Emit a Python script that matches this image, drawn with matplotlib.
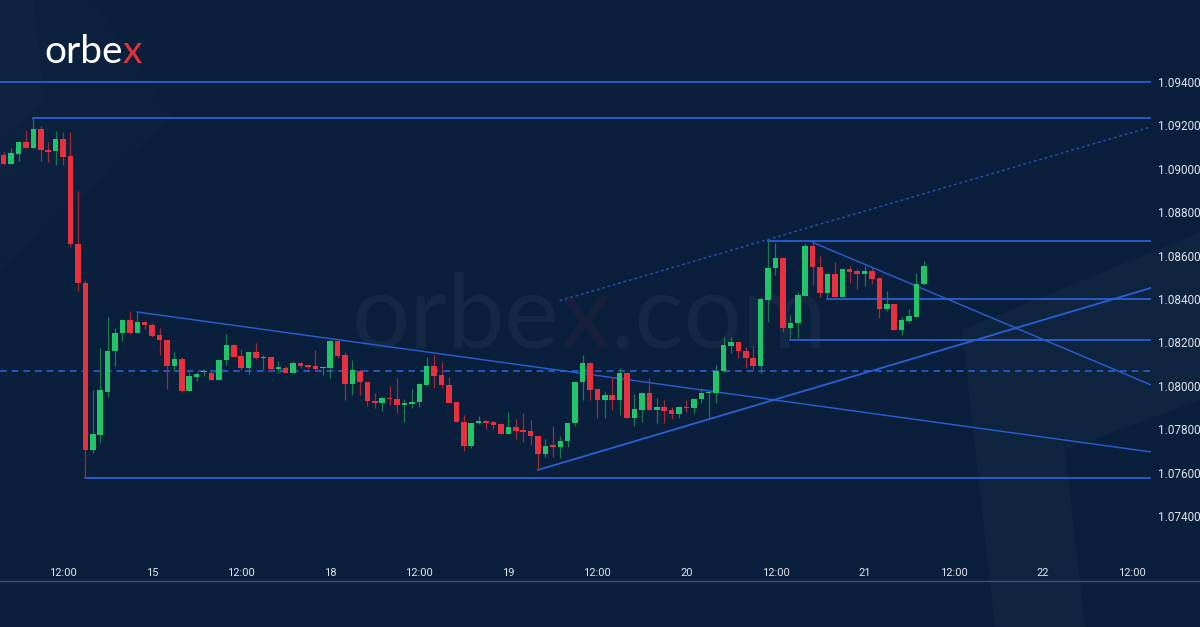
import matplotlib
matplotlib.use("Agg")
import matplotlib.pyplot as plt
from matplotlib.patches import Rectangle, Polygon
import numpy as np

# EURUSD H1 candles (first candle = 14th 04:00)
opens = [
    1.09064, 1.09021, 1.09068, 1.09122, 1.09097, 1.09183, 1.09085, 1.09082, 1.09137, 1.09059,
    1.08653, 1.08475, 1.07704, 1.07773, 1.07973, 1.08159, 1.08242, 1.08302, 1.08242, 1.08296,
    1.08280, 1.08233, 1.08213, 1.08091, 1.08125, 1.07976, 1.08042, 1.08062, 1.08060, 1.08026,
    1.08119, 1.08188, 1.08137, 1.08083, 1.08154, 1.08126, 1.08131, 1.08079, 1.08083, 1.08060,
    1.08105, 1.08095, 1.08091, 1.08080, 1.08080, 1.08205, 1.08142, 1.08006, 1.08069, 1.08019,
    1.07931, 1.07922, 1.07943, 1.07939, 1.07913, 1.07916, 1.07927, 1.08003, 1.08092, 1.08049,
    1.08003, 1.07925, 1.07834, 1.07724, 1.07828, 1.07839, 1.07831, 1.07822, 1.07779, 1.07812,
    1.07792, 1.07790, 1.07770, 1.07684, 1.07724, 1.07718, 1.07746, 1.07827, 1.08016, 1.08107,
    1.07984, 1.07935, 1.07958, 1.07935, 1.08060, 1.07853, 1.07888, 1.07965, 1.07888, 1.07901,
    1.07890, 1.07870, 1.07902, 1.07896, 1.07938, 1.07965, 1.07968, 1.08070, 1.08185, 1.08200,
    1.08162, 1.08130, 1.08091, 1.08395, 1.08541, 1.08587, 1.08265, 1.08288, 1.08415, 1.08646,
    1.08546, 1.08426, 1.08515, 1.08408, 1.08537, 1.08529, 1.08514, 1.08529, 1.08495, 1.08354,
    1.08377, 1.08257, 1.08300, 1.08319, 1.08468]
highs = [
    1.09079, 1.09094, 1.09128, 1.09179, 1.09233, 1.09197, 1.09122, 1.09176, 1.09171, 1.09171,
    1.08898, 1.08488, 1.07981, 1.08176, 1.08316, 1.08265, 1.08308, 1.08346, 1.08345, 1.08300,
    1.08288, 1.08265, 1.08213, 1.08154, 1.08134, 1.08065, 1.08065, 1.08076, 1.08068, 1.08122,
    1.08237, 1.08191, 1.08171, 1.08157, 1.08195, 1.08142, 1.08134, 1.08114, 1.08092, 1.08114,
    1.08111, 1.08095, 1.08165, 1.08088, 1.08211, 1.08208, 1.08157, 1.08119, 1.08076, 1.08019,
    1.07965, 1.07946, 1.07999, 1.08034, 1.07940, 1.07983, 1.08014, 1.08134, 1.08142, 1.08111,
    1.08042, 1.07925, 1.07865, 1.07830, 1.07862, 1.07842, 1.07838, 1.07830, 1.07881, 1.07848,
    1.07873, 1.07842, 1.07770, 1.07753, 1.07815, 1.07770, 1.07827, 1.08024, 1.08142, 1.08111,
    1.07984, 1.07970, 1.08042, 1.08084, 1.08062, 1.07961, 1.07965, 1.08034, 1.07942, 1.07935,
    1.07904, 1.07904, 1.07935, 1.07942, 1.07988, 1.07978, 1.08096, 1.08223, 1.08223, 1.08200,
    1.08180, 1.08183, 1.08411, 1.08669, 1.08657, 1.08587, 1.08326, 1.08434, 1.08657, 1.08661,
    1.08598, 1.08515, 1.08572, 1.08537, 1.08552, 1.08537, 1.08552, 1.08541, 1.08495, 1.08437,
    1.08377, 1.08316, 1.08354, 1.08518, 1.08575]
lows = [
    1.09018, 1.09021, 1.09038, 1.09097, 1.09097, 1.09036, 1.09033, 1.09018, 1.09018, 1.08641,
    1.08437, 1.07575, 1.07689, 1.07738, 1.07947, 1.08091, 1.08208, 1.08237, 1.08242, 1.08262,
    1.08226, 1.08142, 1.07984, 1.08069, 1.07973, 1.07976, 1.08024, 1.08045, 1.08026, 1.08026,
    1.08095, 1.08131, 1.08072, 1.08052, 1.08122, 1.08072, 1.08065, 1.08057, 1.08060, 1.08057,
    1.08080, 1.08076, 1.08072, 1.08049, 1.08034, 1.08126, 1.07934, 1.07957, 1.07957, 1.07907,
    1.07896, 1.07883, 1.07910, 1.07873, 1.07831, 1.07896, 1.07900, 1.08003, 1.07991, 1.07991,
    1.07919, 1.07833, 1.07699, 1.07715, 1.07824, 1.07799, 1.07800, 1.07776, 1.07776, 1.07753,
    1.07742, 1.07727, 1.07612, 1.07670, 1.07670, 1.07666, 1.07716, 1.07815, 1.07935, 1.07935,
    1.07850, 1.07850, 1.07888, 1.07865, 1.07853, 1.07816, 1.07835, 1.07888, 1.07827, 1.07827,
    1.07847, 1.07853, 1.07881, 1.07873, 1.07922, 1.07842, 1.07922, 1.08065, 1.08150, 1.08127,
    1.08081, 1.08073, 1.08061, 1.08296, 1.08511, 1.08249, 1.08219, 1.08219, 1.08415, 1.08465,
    1.08411, 1.08398, 1.08408, 1.08408, 1.08475, 1.08445, 1.08460, 1.08469, 1.08311, 1.08346,
    1.08257, 1.08234, 1.08291, 1.08316, 1.08463]
closes = [
    1.09021, 1.09071, 1.09122, 1.09097, 1.09183, 1.09085, 1.09079, 1.09137, 1.09056, 1.08652,
    1.08472, 1.07704, 1.07778, 1.07981, 1.08162, 1.08243, 1.08302, 1.08242, 1.08296, 1.08280,
    1.08231, 1.08211, 1.08091, 1.08125, 1.07976, 1.08044, 1.08054, 1.08066, 1.08026, 1.08119,
    1.08188, 1.08134, 1.08083, 1.08154, 1.08126, 1.08131, 1.08076, 1.08083, 1.08060, 1.08105,
    1.08092, 1.08086, 1.08077, 1.08082, 1.08205, 1.08137, 1.08006, 1.08072, 1.08016, 1.07930,
    1.07922, 1.07942, 1.07937, 1.07911, 1.07917, 1.07927, 1.08006, 1.08092, 1.08046, 1.08002,
    1.07922, 1.07833, 1.07724, 1.07830, 1.07839, 1.07830, 1.07819, 1.07779, 1.07812, 1.07792,
    1.07789, 1.07767, 1.07684, 1.07724, 1.07719, 1.07746, 1.07827, 1.08019, 1.08107, 1.07981,
    1.07935, 1.07958, 1.07935, 1.08060, 1.07853, 1.07893, 1.07965, 1.07888, 1.07901, 1.07885,
    1.07870, 1.07901, 1.07898, 1.07938, 1.07965, 1.07971, 1.08070, 1.08188, 1.08200, 1.08162,
    1.08130, 1.08091, 1.08398, 1.08541, 1.08587, 1.08265, 1.08288, 1.08418, 1.08646, 1.08546,
    1.08426, 1.08515, 1.08408, 1.08537, 1.08526, 1.08514, 1.08529, 1.08492, 1.08354, 1.08377,
    1.08257, 1.08303, 1.08322, 1.08468, 1.08554]
first_hour = 4  # hours counted from 14th 00:00, weekend removed

# horizontal levels: (price, start hour)
h_levels = [1.09400, 1.09232, 1.08669, 1.08398, 1.08210, 1.07575]
h_starts = [3.5, 8, 107, 115, 110, 15]
dashed_level = 1.08070

# trend lines: (x0, y0, x1, y1)
desc_long = (22, 1.08340, 158.6, 1.07695)
rising = (76, 1.07612, 158.6, 1.08451)
desc_short = (113, 1.08661, 158.6, 1.08004)
dotted = (78.9, 1.08392, 158.6, 1.09193)

xtick_pos = [12, 24, 36, 48, 60, 72, 84, 96, 108, 120, 132, 144, 156]
xtick_lab = ["12:00", "15", "12:00", "18", "12:00", "19", "12:00", "20", "12:00", "21", "12:00", "22", "12:00"]
ytick_pos = [1.074, 1.076, 1.078, 1.080, 1.082, 1.084, 1.086, 1.088, 1.090, 1.092, 1.094]

bg = "#0a1f3b"
green = "#22c46a"
red = "#e8313f"
green_wick = "#1c7b4b"
red_wick = "#a02a38"
blue = "#2a60d6"
text_col = "#dfe5ee"

W, H = 1200, 627
fig = plt.figure(figsize=(12, 6.27), dpi=100, facecolor=bg)


def px(x, y):
    return (x / W, 1 - y / H)


# faint background decoration
deco = [
    ([(0, 0), (93, 0), (173, 117), (0, 270)], 0.012),
    ([(0, 0), (33, 0), (45, 100), (0, 140)], 0.012),
    ([(962, 330), (1200, 232), (1200, 400), (1065, 450), (1085, 627), (995, 627)], 0.022),
]
for pts, a in deco:
    fig.patches.append(Polygon([px(*p) for p in pts], closed=True, transform=fig.transFigure,
                               facecolor="white", alpha=a, edgecolor="none", zorder=-5))

ax = fig.add_axes([0, 1 - 555 / H, 1151 / W, 555 / H])
ax.set_facecolor("none")
for s in ax.spines.values():
    s.set_visible(False)
ax.set_xlim(3.5, 158.6)
ax.set_ylim(1.07220, 1.09778)

# levels and trend lines
for lv, st in zip(h_levels, h_starts):
    ax.plot([st, 158.6], [lv, lv], color=blue, lw=1.3, zorder=2)
ax.axhline(dashed_level, color=blue, lw=1.2, ls=(0, (4, 3)), zorder=2)
for ln in (desc_long, desc_short):
    ax.plot([ln[0], ln[2]], [ln[1], ln[3]], color=blue, lw=1.0, zorder=2)
ax.plot([rising[0], rising[2]], [rising[1], rising[3]], color=blue, lw=1.3, zorder=2)
ax.plot([dotted[0], dotted[2]], [dotted[1], dotted[3]], color="#2552b8", lw=1.0,
        ls=(0, (2, 2)), zorder=2)

# candles
xs = np.arange(first_hour, first_hour + len(opens))
for x, o, h, l, c in zip(xs, opens, highs, lows, closes):
    up = c >= o
    ax.plot([x, x], [l, h], color=green_wick if up else red_wick, lw=0.9, zorder=3,
            solid_capstyle="butt")
    bottom = min(o, c)
    height = max(abs(c - o), 0.00006)
    ax.add_patch(Rectangle((x - 0.37, bottom), 0.74, height, facecolor=green if up else red,
                           edgecolor="none", zorder=4))

ax.yaxis.tick_right()
ax.set_yticks(ytick_pos)
ax.set_yticklabels(["%.5f" % v for v in ytick_pos])
ax.set_xticks(xtick_pos)
ax.set_xticklabels(xtick_lab)
ax.tick_params(axis="y", length=0, pad=5, labelsize=8.5, labelcolor=text_col)
ax.tick_params(axis="x", length=0, pad=9, labelsize=8, labelcolor=text_col)
for t in ax.get_yticklabels() + ax.get_xticklabels():
    t.set_fontfamily("Roboto")

# bottom separator
fig.lines.append(plt.Line2D([0, 1], [1 - 581 / H] * 2, transform=fig.transFigure,
                            color="#3b5170", lw=1.0))

renderer = fig.canvas.get_renderer()


def pieces(x, y, parts, size, weight, z):
    # draw consecutive text pieces of different colours on one baseline
    for txt, col, a in parts:
        t = fig.text(*px(x, y), txt, fontsize=size, color=col, alpha=a, family="Lato",
                     weight=weight, va="baseline", ha="left", zorder=z)
        x = t.get_window_extent(renderer).x1


# watermark and logo
pieces(352, 348, [("orbe", "white", 0.042), ("x", red, 0.06), (".com", "white", 0.042)],
       74, "normal", -1)
pieces(44, 63, [("orbe", "white", 1.0), ("x", "#e8303c", 1.0)], 28, "normal", 5)

fig.savefig("out.png", dpi=100, facecolor=bg)
